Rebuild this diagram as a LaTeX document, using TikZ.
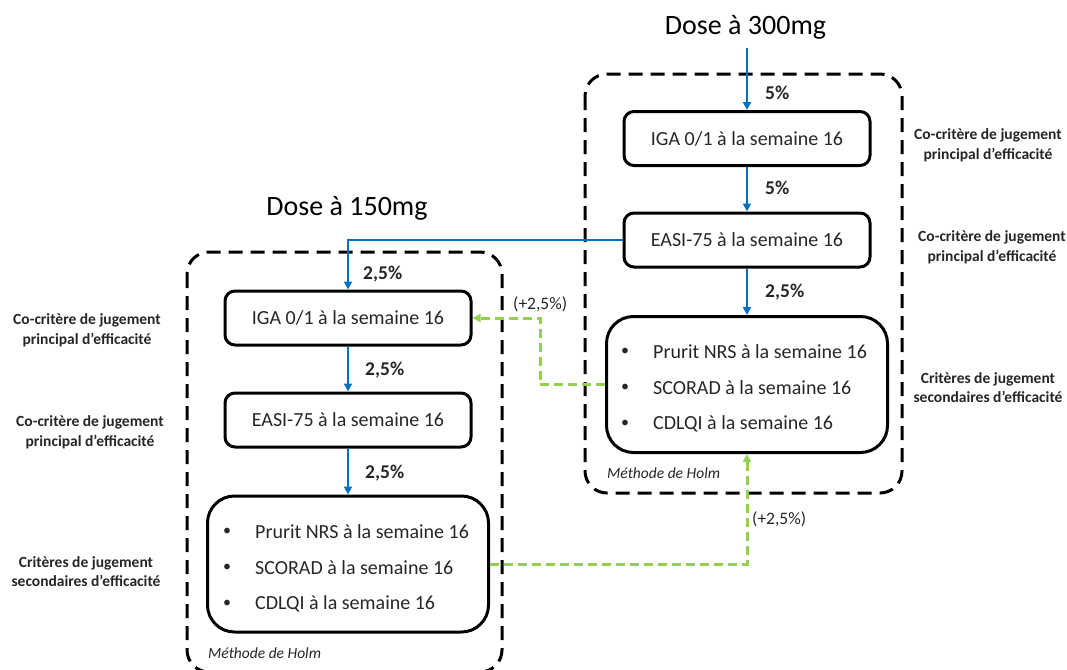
\documentclass[tikz,border=0pt]{standalone}
\usepackage{fontspec}
\setmainfont{Carlito}
\usetikzlibrary{arrows.meta,calc}
\definecolor{flowblue}{HTML}{0070C0}
\definecolor{bonusgreen}{HTML}{92D050}
\definecolor{inkgray}{HTML}{262626}

\begin{document}
\begin{tikzpicture}[x=1pt,y=-1pt,
  stage/.style={draw=black, line width=3pt, rounded corners=10pt, minimum width=246pt,
    minimum height=54pt, inner sep=0pt, font=\fontsize{20}{24}\selectfont, text=inkgray},
  listbox/.style={draw=black, line width=3pt, rounded corners=27pt, minimum width=281pt,
    minimum height=136pt, inner sep=0pt},
  holmframe/.style={draw=black, line width=3pt, dash pattern=on 14pt off 8pt, rounded corners=22pt},
  flow/.style={draw=flowblue, line width=2.5pt, -{Triangle[length=8pt,width=8pt]}},
  bonus/.style={draw=bonusgreen, line width=3pt, dash pattern=on 9pt off 5pt,
    -{Triangle[length=8pt,width=8pt]}},
  pct/.style={font=\bfseries\fontsize{19.5}{22}\selectfont, text=inkgray, anchor=west, inner sep=0pt},
  extra/.style={font=\fontsize{17.5}{20}\selectfont, text=inkgray, anchor=west, inner sep=0pt},
  role/.style={font=\bfseries\fontsize{15.5}{19.5}\selectfont, text=inkgray, align=center, inner sep=0pt},
  dose/.style={font=\fontsize{28}{32}\selectfont, text=black, inner sep=0pt, anchor=base},
  item/.style={font=\fontsize{20}{24}\selectfont, text=inkgray, anchor=west, inner sep=0pt},
  dot/.style={font=\fontsize{16}{20}\selectfont, text=inkgray, inner sep=0pt},
  holm/.style={font=\itshape\fontsize{15.5}{18}\selectfont, text=inkgray, anchor=west, inner sep=0pt},
]
\clip (0,0) rectangle (1067,669);

% ---------- 300 mg arm ----------
\draw[holmframe] (585,74) rectangle (902,493);
\node[dose] (t300) at (745.5,35) {Dose à 300mg};
\coordinate (s300) at (747,48);
\node[stage] (iga3) at (747,138.5) {IGA 0/1 à la semaine 16};
\node[stage] (easi3) at (747,240) {EASI-75 à la semaine 16};
\node[listbox] (bul3) at (747,384.5) {};
\node[dot] (b3a) at (625,352) {•};
\node[item] (i3a) at (653,352) {Prurit NRS à la semaine 16};
\node[dot] (b3b) at (625,388) {•};
\node[item] (i3b) at (653,388) {SCORAD à la semaine 16};
\node[dot] (b3c) at (625,424) {•};
\node[item] (i3c) at (653,424) {CDLQI à la semaine 16};
\node[holm] (h3) at (607,473) {Méthode de Holm};

\draw[flow] (s300) -- (iga3.north);
\draw[flow] (iga3.south) -- (easi3.north);
\draw[flow] (easi3.south) -- (bul3.north);
\node[pct] (p3a) at (765,93) {5\%};
\node[pct] (p3b) at (765,188) {5\%};
\node[pct] (p3c) at (765,292) {2,5\%};

\node[role] (r3a) at (988,145.5) {Co-critère de jugement\\principal d’efficacité};
\node[role] (r3b) at (992,247.5) {Co-critère de jugement\\principal d’efficacité};
\node[role] (r3c) at (988,387.5) {Critères de jugement\\secondaires d’efficacité};

% ---------- 150 mg arm ----------
\draw[holmframe] (187,252) rectangle (502,672);
\node[dose] (t150) at (347,215) {Dose à 150mg};
\node[stage] (iga1) at (348,318) {IGA 0/1 à la semaine 16};
\node[stage] (easi1) at (348,420) {EASI-75 à la semaine 16};
\node[listbox] (bul1) at (348,564) {};
\node[dot] (b1a) at (227,532) {•};
\node[item] (i1a) at (255,532) {Prurit NRS à la semaine 16};
\node[dot] (b1b) at (227,568) {•};
\node[item] (i1b) at (255,568) {SCORAD à la semaine 16};
\node[dot] (b1c) at (227,604) {•};
\node[item] (i1c) at (255,604) {CDLQI à la semaine 16};
\node[holm] (h1) at (208,653) {Méthode de Holm};

\draw[flow] (easi3.west) -| (iga1.north);
\draw[flow] (iga1.south) -- (easi1.north);
\draw[flow] (easi1.south) -- (bul1.north);
\node[pct] (p1a) at (363,274) {2,5\%};
\node[pct] (p1b) at (365,370) {2,5\%};
\node[pct] (p1c) at (365,473) {2,5\%};

\node[role] (r1a) at (87,330.5) {Co-critère de jugement\\principal d’efficacité};
\node[role] (r1b) at (90,432.5) {Co-critère de jugement\\principal d’efficacité};
\node[role] (r1c) at (86,571.5) {Critères de jugement\\secondaires d’efficacité};

% ---------- alpha recycling between arms ----------
\coordinate (kneeA) at (540,318);
\draw[bonus] (bul3.west) -| (kneeA) -- (iga1.east);
\node[extra] (x1) at (513,304) {(+2,5\%)};
\draw[bonus] (bul1.east) -| (bul3.south);
\node[extra] (x2) at (752,519) {(+2,5\%)};
\end{tikzpicture}
\end{document}
